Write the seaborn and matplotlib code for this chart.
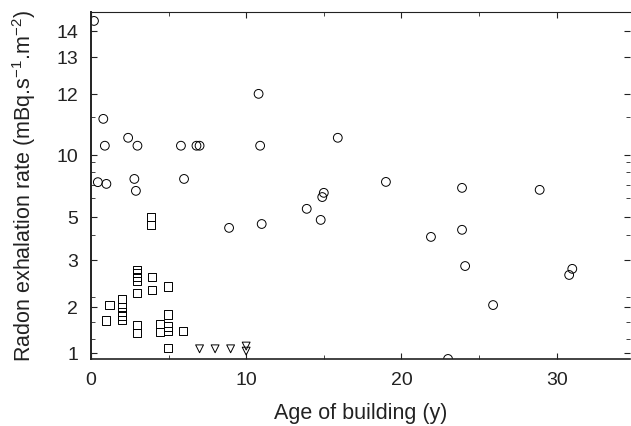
import numpy as np
import pandas as pd
import matplotlib
matplotlib.use('Agg')
import matplotlib.pyplot as plt
import seaborn as sns

# circles
circle_age = [0.2, 0.45, 0.8, 0.9, 1.0, 2.4, 2.8, 2.9, 3.0, 5.8, 6.0, 6.8, 7.0, 8.9,
              10.8, 10.9, 11.0, 13.9, 14.8, 14.9, 15.0, 15.9, 19.0, 21.9, 23.0, 23.9,
              23.9, 24.1, 25.9, 28.9, 30.8, 31.0]
circle_rate = [14.38, 7.8, 11.18, 10.3, 7.66, 10.56, 8.06, 7.1, 10.3, 10.3, 8.06, 10.3,
               10.3, 4.49, 12.0, 10.3, 4.67, 5.65, 4.86, 6.6, 6.94, 10.56, 7.82, 4.07,
               0.87, 4.4, 7.34, 2.87, 2.04, 7.18, 2.68, 2.81]

# squares
square_age = [3.87, 3.87, 2.97, 2.97, 2.97, 2.97, 2.97, 3.94, 3.94, 4.97, 1.2, 0.97,
              2.0, 2.0, 2.0, 2.0, 2.0, 2.97, 2.97, 4.45, 4.45, 4.97, 4.97, 4.97, 4.97,
              5.94]
square_rate = [5.0, 4.63, 2.79, 2.72, 2.64, 2.55, 2.30, 2.64, 2.36, 2.43, 2.04, 1.70,
               2.17, 2.0, 1.89, 1.80, 1.72, 1.61, 1.43, 1.63, 1.46, 1.83, 1.57, 1.48,
               1.11, 1.48]

# triangles
tri_age = [7.0, 8.0, 9.0, 10.0, 10.0]
tri_rate = [1.09, 1.09, 1.09, 1.15, 1.04]

# the printed y axis is not linear: tick value -> distance above the x axis (px)
y_tick_vals = [0.87, 1, 2, 3, 5, 10, 12, 13, 14, 14.73]
y_tick_pos = [0, 6, 52, 99, 142, 204, 265, 302, 328, 347]
y_major = [1, 2, 3, 5, 10, 12, 13, 14]
y_minor = [1.3, 1.67, 2.21, 4.16, 6.53, 7.58, 8.63, 9.44, 11.25]


def fwd(v):
    return np.interp(v, y_tick_vals, y_tick_pos)


def inv(p):
    return np.interp(p, y_tick_pos, y_tick_vals)


sns.set_style('white')
plt.rcParams['font.family'] = ['Liberation Sans', 'DejaVu Sans']
plt.rcParams['mathtext.fontset'] = 'custom'
plt.rcParams['mathtext.rm'] = 'Liberation Sans'
plt.rcParams['mathtext.it'] = 'Liberation Sans:italic'

fig = plt.figure(figsize=(6.31, 4.27), dpi=100)
ax = fig.add_axes([0.144, 0.157, 0.854, 0.813])

kw = dict(facecolor='none', edgecolor='black', linewidth=0.7, legend=False, ax=ax)
sns.scatterplot(x=circle_age, y=circle_rate, marker='o', s=40, **kw)
sns.scatterplot(x=square_age, y=square_rate, marker='s', s=38, **kw)
sns.scatterplot(x=tri_age, y=tri_rate, marker='v', s=32, **kw)

ax.set_yscale('function', functions=(fwd, inv))
ax.set_ylim(0.87, 14.73)
ax.set_xlim(0, 34.7)

ax.set_yticks(y_major)
ax.set_yticklabels([str(v) for v in y_major])
ax.set_yticks(y_minor, minor=True)
ax.set_xticks([0, 10, 20, 30])
ax.set_xticks([5, 15, 25], minor=True)

ax.tick_params(which='both', direction='in', top=True, right=True, left=True, bottom=True,
               labelsize=14, pad=9, colors='#222222')
ax.tick_params(which='major', length=4, width=0.8)
ax.tick_params(which='minor', length=3, width=0.6)

for side in ['left', 'bottom', 'top']:
    ax.spines[side].set_color('#222222')
ax.spines['left'].set_linewidth(1.4)
ax.spines['bottom'].set_linewidth(1.2)
ax.spines['top'].set_linewidth(0.8)
ax.spines['right'].set_visible(False)

ax.set_xlabel('Age of building (y)', fontsize=15.5, labelpad=10, color='#222222')
ax.set_ylabel('Radon exhalation rate (mBq.s$^{-1}$.m$^{-2}$)', fontsize=15.5,
              labelpad=13, color='#222222')

fig.savefig('out.png', dpi=100)
